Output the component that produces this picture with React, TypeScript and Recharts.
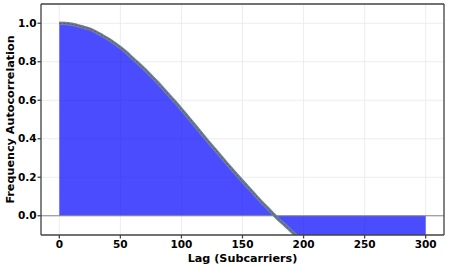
import React from 'react';
import { ComposedChart, Area, Line, XAxis, YAxis, CartesianGrid, ReferenceLine } from 'recharts';

// lag in subcarriers, step of 5
const lags = [
  0, 5, 10, 15, 20, 25, 30, 35, 40, 45, 50, 55, 60, 65, 70, 75, 80, 85, 90, 95,
  100, 105, 110, 115, 120, 125, 130, 135, 140, 145, 150, 155, 160, 165, 170, 175, 180, 185, 190, 195,
  200, 205, 210, 215, 220, 225, 230, 235, 240, 245, 250, 255, 260, 265, 270, 275, 280, 285, 290, 295, 300,
];

// (values below -0.1 fall outside the visible range)
const autocorr = [
  1.0, 0.999, 0.995, 0.988, 0.979, 0.97, 0.955, 0.937, 0.918, 0.897, 0.874, 0.848, 0.818, 0.79, 0.76, 0.728,
  0.695, 0.66, 0.625, 0.59, 0.553, 0.515, 0.477, 0.438, 0.4, 0.362, 0.325, 0.288, 0.251, 0.215,
  0.18, 0.145, 0.11, 0.075, 0.043, 0.01, -0.022, -0.05, -0.08, -0.108,
  -0.13, -0.15, -0.165, -0.18, -0.19, -0.2, -0.21, -0.215, -0.22, -0.22, -0.22, -0.22, -0.215, -0.21,
  -0.2, -0.19, -0.18, -0.17, -0.16, -0.15, -0.14,
];

const xTicks = [0, 50, 100, 150, 200, 250, 300];
const yTicks = [0, 0.2, 0.4, 0.6, 0.8, 1.0];

const data = lags.map((lag, i) => ({ lag, value: autocorr[i] }));

const font = 'DejaVu Sans, sans-serif';
const spine = '#444';

export default function App() {
  return (
    <div style={{ position: 'absolute', left: 0, top: 0, background: '#fff' }}>
      <ComposedChart
        width={449}
        height={268}
        data={data}
        margin={{ top: 4, right: 5, left: 0, bottom: 0 }}
      >
        <CartesianGrid stroke="#e8e8e8" strokeWidth={0.8} />
        <XAxis
          dataKey="lag"
          type="number"
          domain={[-15, 315]}
          ticks={xTicks}
          allowDataOverflow
          height={33}
          stroke={spine}
          strokeWidth={1.3}
          tickSize={3.5}
          tickMargin={2}
          tick={{ fill: '#000', fontSize: 10.5, fontWeight: 'bold', fontFamily: font }}
          label={{
            value: 'Lag (Subcarriers)',
            position: 'insideBottom',
            offset: 6,
            style: { fill: '#000', fontSize: 11.2, fontWeight: 'bold', fontFamily: font },
          }}
        />
        <YAxis
          type="number"
          domain={[-0.1, 1.1]}
          ticks={yTicks}
          allowDataOverflow
          width={41}
          stroke={spine}
          strokeWidth={1.3}
          tickSize={3.5}
          tickMargin={1}
          tickFormatter={(v: number) => v.toFixed(1)}
          tick={{ fill: '#000', fontSize: 10.5, fontWeight: 'bold', fontFamily: font }}
          label={{
            value: 'Frequency Autocorrelation',
            angle: -90,
            position: 'insideLeft',
            offset: 10,
            style: { fill: '#000', fontSize: 11.2, fontWeight: 'bold', fontFamily: font, textAnchor: 'middle' },
          }}
        />
        <ReferenceLine y={0} stroke="#888" strokeWidth={1} />
        <Area
          type="monotone"
          dataKey="value"
          fill="#0000ff"
          fillOpacity={0.7}
          stroke="none"
          baseValue={0}
          isAnimationActive={false}
        />
        <Line type="monotone" dataKey="value" stroke="#4a90c8" strokeWidth={3.4} dot={false} isAnimationActive={false} />
        <Line type="monotone" dataKey="value" stroke="#777" strokeWidth={1.6} dot={false} isAnimationActive={false} />
        <Line
          type="monotone"
          dataKey="value"
          stroke="#d62728"
          strokeWidth={1}
          strokeDasharray="2 2"
          dot={false}
          isAnimationActive={false}
        />
        <ReferenceLine y={1.1} stroke={spine} strokeWidth={1.3} />
        <ReferenceLine x={315} stroke={spine} strokeWidth={1.3} />
      </ComposedChart>
    </div>
  );
}
